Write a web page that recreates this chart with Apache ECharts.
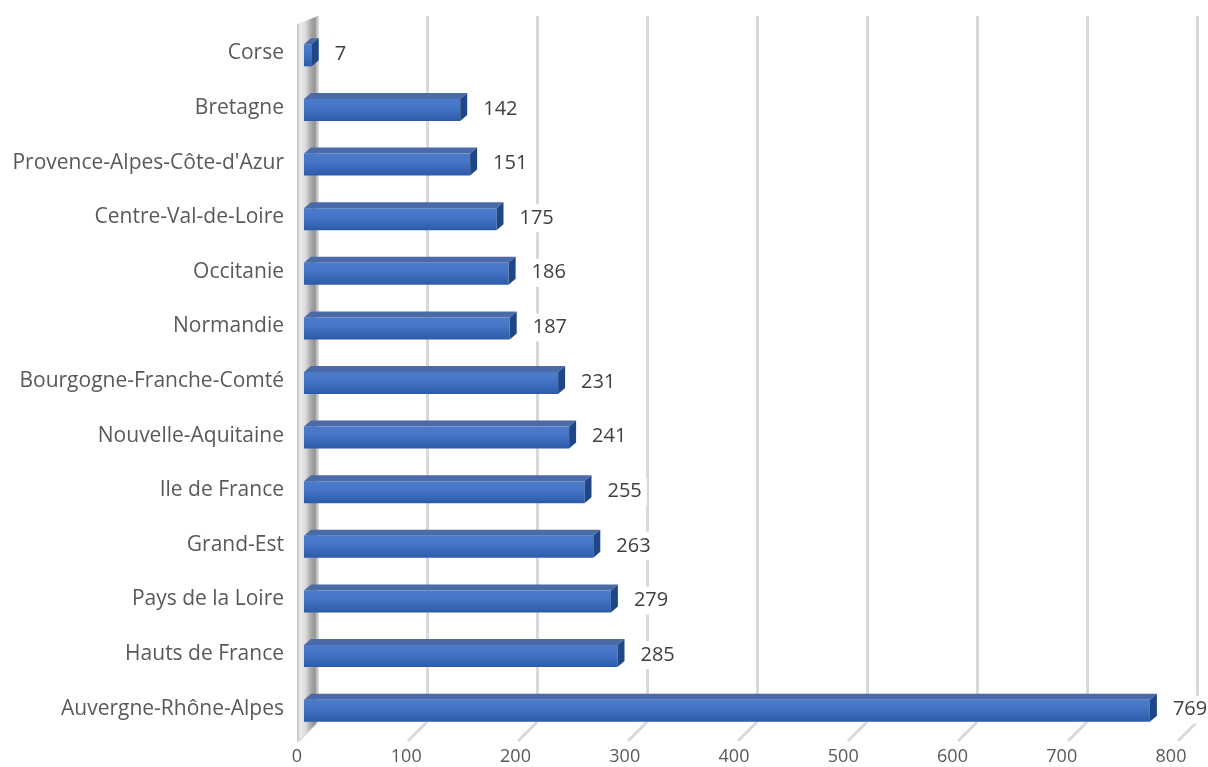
<!DOCTYPE html>
<html>
<head>
<meta charset="utf-8">
<script src="https://cdn.jsdelivr.net/npm/echarts@6/dist/echarts.min.js"></script>
<style>
  html, body { margin: 0; padding: 0; background: #fff; }
  #chart { width: 1208px; height: 767px; }
</style>
</head>
<body>
<div id="chart"></div>
<script>
// regions, top to bottom as shown
const regions = ["Corse", "Bretagne", "Provence-Alpes-Côte-d'Azur", "Centre-Val-de-Loire", "Occitanie",
  "Normandie", "Bourgogne-Franche-Comté", "Nouvelle-Aquitaine", "Ile de France", "Grand-Est",
  "Pays de la Loire", "Hauts de France", "Auvergne-Rhône-Alpes"];
const counts = [7, 142, 151, 175, 186, 187, 231, 241, 255, 263, 279, 285, 769];
const ticks = [0, 100, 200, 300, 400, 500, 600, 700, 800];

const FONT = "'Open Sans', sans-serif";
const TXT = "#595959";

let myChart = echarts.init(document.getElementById("chart"));

// bars drawn as 3d-looking boxes
function renderBar(params, api) {
  const i = api.value(0);
  const v = api.value(1);
  const p0 = api.coord([0, i]);
  const p1 = api.coord([v, i]);
  const c = p0[1] + 2;
  const h = 11, dx = 7, dy = 6;
  const x0 = p0[0], x1 = p1[0];
  return {
    type: "group",
    children: [
      { type: "polygon", shape: { points: [[x0, c - h], [x1, c - h], [x1 + dx, c - h - dy], [x0 + dx, c - h - dy]] },
        style: { fill: "#4a6aa8" } },
      { type: "rect", shape: { x: x0, y: c - h, width: x1 - x0, height: 2 * h },
        style: { fill: new echarts.graphic.LinearGradient(0, 0, 0, 1, [
          { offset: 0, color: "#4d7bcb" }, { offset: 0.35, color: "#4676c6" }, { offset: 1, color: "#2b5ba8" }]) } },
      { type: "polygon", shape: { points: [[x1, c - h], [x1 + dx, c - h - dy], [x1 + dx, c + h - dy], [x1, c + h]] },
        style: { fill: "#1f4788" } },
      { type: "text", x: x1 + 21, y: c - 1,
        style: { text: String(v), fill: "#404040", font: "20px " + FONT, verticalAlign: "middle", align: "left",
          backgroundColor: "#fff", padding: [4, 5, 4, 2] } }
    ]
  };
}

// slanted feet under the back wall grid lines
function renderFoot(params, api) {
  const p = api.coord([api.value(0), 0]);
  return { type: "line", shape: { x1: p[0], y1: 722, x2: p[0] - 19, y2: 741 },
    style: { stroke: "#d9d9d9", lineWidth: 3 } };
}

let option = {
  animation: false,
  backgroundColor: "#fff",
  graphic: [
    { type: "polygon", z: 1,
      shape: { points: [[297, 24], [318, 16], [318, 722], [297, 742]] },
      style: { fill: new echarts.graphic.LinearGradient(0, 0, 1, 0, [
        { offset: 0, color: "#bdbdbd" }, { offset: 0.15, color: "#ececec" }, { offset: 0.4, color: "#dcdcdc" },
        { offset: 0.65, color: "#ababab" }, { offset: 0.85, color: "#939393" }, { offset: 1, color: "#d6d6d6" }]) } }
  ],
  grid: [
    { left: 304, right: 24, top: 26, bottom: 31 },
    { left: 317, right: 11, top: 16, bottom: 45 },
    { left: 297, right: 37, top: 16, bottom: 26 }
  ],
  xAxis: [
    { gridIndex: 0, type: "value", min: 0, max: 800, show: false },
    { gridIndex: 1, type: "value", min: 0, max: 800, interval: 100,
      axisLine: { show: false }, axisTick: { show: false }, axisLabel: { show: false },
      splitLine: { show: true, lineStyle: { color: "#d9d9d9", width: 3 } } },
    { gridIndex: 2, type: "value", min: 0, max: 800, interval: 100,
      axisLine: { show: false }, axisTick: { show: false }, splitLine: { show: false },
      axisLabel: { color: TXT, fontFamily: FONT, fontSize: 18, margin: 7,
        formatter: (v) => ticks.includes(v) ? String(v) : "" } }
  ],
  yAxis: [
    { gridIndex: 0, type: "category", data: regions, inverse: true,
      axisLine: { show: false }, axisTick: { show: false },
      axisLabel: { color: TXT, fontFamily: FONT, fontSize: 21, margin: 20 } },
    { gridIndex: 1, type: "value", show: false, min: 0, max: 1 },
    { gridIndex: 2, type: "value", show: false, min: 0, max: 1 }
  ],
  series: [
    { type: "custom", xAxisIndex: 1, yAxisIndex: 1, z: 0, silent: true,
      renderItem: renderFoot, data: ticks.map((t) => [t]) },
    { type: "custom", xAxisIndex: 0, yAxisIndex: 0, z: 5,
      renderItem: renderBar,
      encode: { x: 1, y: 0 },
      data: counts.map((v, i) => [i, v]) }
  ]
};

myChart.setOption(option);
</script>
</body>
</html>
